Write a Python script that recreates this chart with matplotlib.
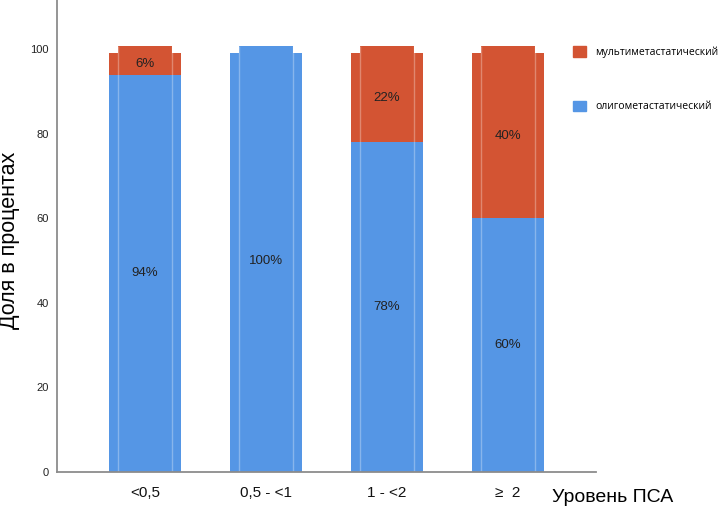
import matplotlib.pyplot as plt
import matplotlib.patches as mpatches
import numpy as np

plt.rcParams['font.family'] = ['Liberation Sans', 'DejaVu Sans']

categories = ['<0,5', '0,5 - <1', '1 - <2', '≥  2']
oligo = np.array([94, 100, 78, 60])   # олигометастатический, %
multi = np.array([6, 0, 22, 40])      # мультиметастатический, %
oligo_lbl = ['94%', '100%', '78%', '60%']
multi_lbl = ['6%', '', '22%', '40%']

blue = '#5596e5'
red = '#d35433'

outer_top = 99.2   # the wide part of each bar stops a bit under 100
inner_top = 100.8  # the narrow part pokes slightly above

fig = plt.figure(figsize=(7.22, 5.11), dpi=100)
ax = fig.add_axes([57/722, 39/511, 539/722, 472/511])

x = np.arange(len(categories))
has_multi = multi > 0

for top, w in [(outer_top, 0.60), (inner_top, 0.45)]:
    b_h = np.where(has_multi, oligo, top)
    r_h = np.where(has_multi, top - oligo, 0)
    ax.bar(x, b_h, width=w, color=blue, linewidth=0)
    ax.bar(x[has_multi], r_h[has_multi], bottom=oligo[has_multi], width=w,
           color=red, linewidth=0)

# faint light lines along the edges of the narrow part
ax.vlines(np.concatenate([x - 0.225, x + 0.225]), 0, inner_top,
          colors=(1, 1, 1, 0.3), linewidth=1)

for i in range(len(x)):
    ax.text(x[i], oligo[i] / 2, oligo_lbl[i], ha='center', va='center',
            fontsize=9.5, color='#222222')
    if multi_lbl[i]:
        ax.text(x[i], (oligo[i] + outer_top) / 2, multi_lbl[i], ha='center',
                va='center', fontsize=9.5, color='#222222')

ax.set_xlim(-0.727, 3.727)
ax.set_ylim(0, 111.7)
ax.set_yticks([0, 20, 40, 60, 80, 100])
ax.set_xticks(x)
ax.set_xticklabels(categories, fontsize=11)
ax.tick_params(axis='y', length=0, pad=6, labelsize=8, labelcolor='#222222')
ax.tick_params(axis='x', length=0, pad=10, labelcolor='#111111')
for s in ['top', 'right']:
    ax.spines[s].set_visible(False)
for s in ['left', 'bottom']:
    ax.spines[s].set_color('#8c8c8c')
    ax.spines[s].set_linewidth(1.3)

fig.text(10/722, 1 - 240/511, 'Доля в процентах', rotation=90, fontsize=15.5,
         ha='center', va='center')
fig.text(552/722, 1 - 497/511, 'Уровень ПСА', fontsize=14, ha='left', va='center')

handles = [mpatches.Patch(color=red, label='мультиметастатический'),
           mpatches.Patch(color=blue, label='олигометастатический')]
fig.legend(handles=handles, loc='upper left', bbox_to_anchor=(573/722, 1 - 46.5/511),
           frameon=False, handlelength=1.2, handleheight=1.2,
           labelspacing=4.05, handletextpad=0.9, borderpad=0, borderaxespad=0,
           prop={'family': ['Open Sans', 'DejaVu Sans'], 'size': 7.5})

fig.savefig('out.png', dpi=100)
